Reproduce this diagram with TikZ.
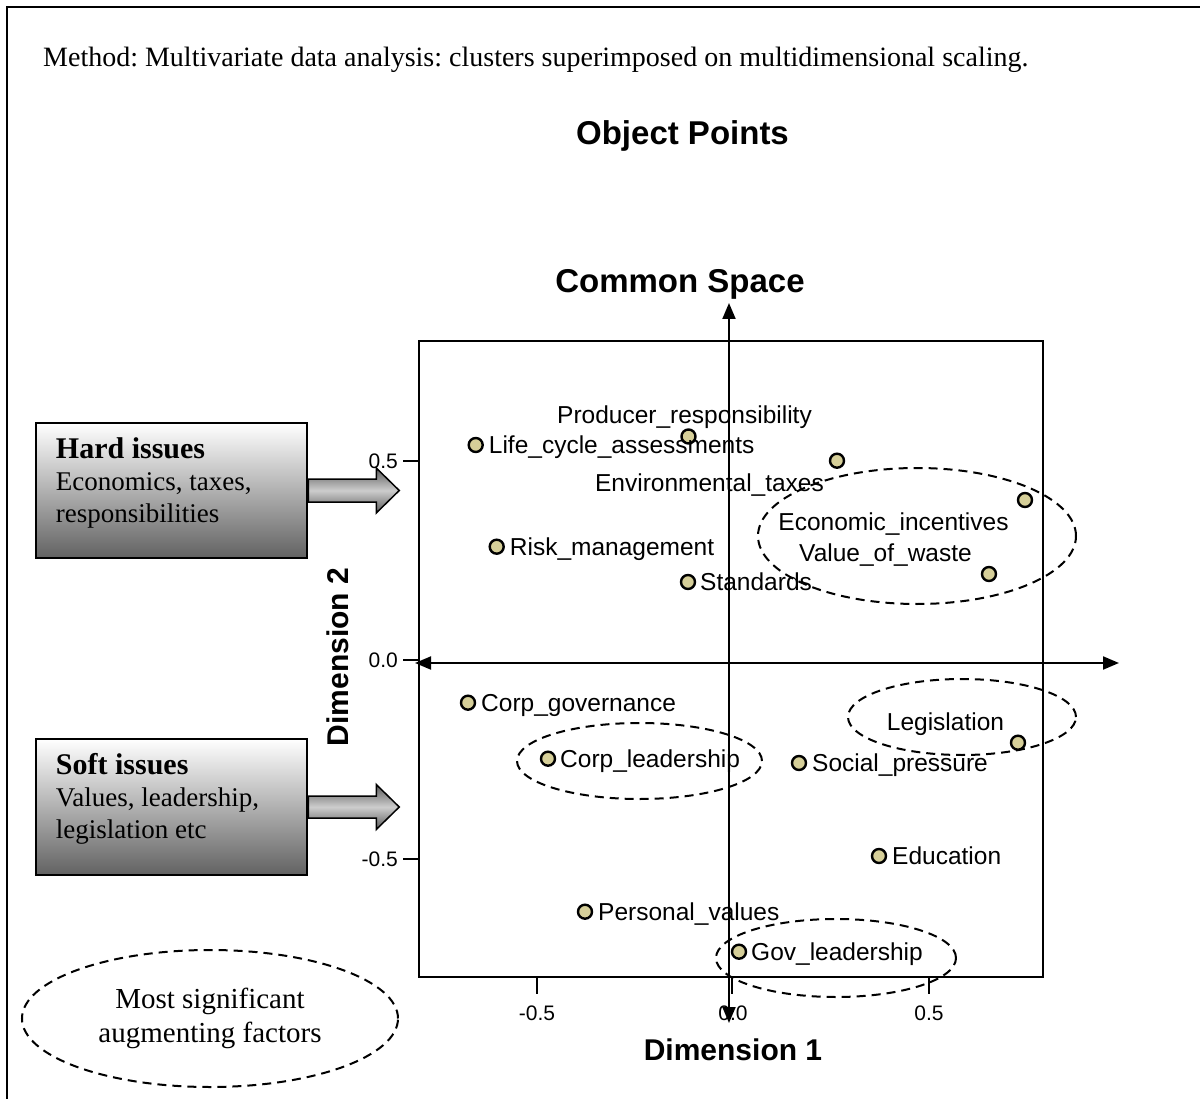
\documentclass[tikz,border=0pt]{standalone}
\usepackage{fontspec}
\setmainfont{Liberation Serif}
\setsansfont{Liberation Sans}
\usetikzlibrary{shapes.geometric,arrows.meta,calc}
\definecolor{ptfill}{RGB}{214,207,153}
\definecolor{boxdark}{RGB}{98,98,98}
\definecolor{arrowdark}{RGB}{90,90,90}
\definecolor{arrowlight}{RGB}{205,205,205}
\frenchspacing
\begin{document}
\begin{tikzpicture}[x=1pt,y=-1pt,
  pt/.style={circle,draw=black,line width=2.4pt,fill=ptfill,minimum size=14pt,inner sep=0pt},
  lab/.style={font=\sffamily\fontsize{24.5}{28}\selectfont,inner sep=0pt,anchor=base west},
  labc/.style={lab,anchor=base},
  ticklab/.style={font=\sffamily\fontsize{21}{24}\selectfont,inner sep=0pt},
  cluster/.style={ellipse,draw=black,line width=2pt,dash pattern=on 9pt off 6pt,inner sep=0pt},
  issuebox/.style={draw=black,line width=2.5pt,top color=white,bottom color=boxdark,minimum width=271pt,minimum height=135pt,inner sep=0pt},
  issuehead/.style={font=\fontsize{30}{32}\selectfont\bfseries,inner sep=0pt,anchor=base west},
  issuetext/.style={font=\fontsize{27}{32}\selectfont,inner sep=0pt,anchor=base west},
  fat/.style={draw=black,line width=1.5pt,top color=arrowdark,bottom color=arrowdark,middle color=arrowlight},
  axisline/.style={line width=2pt,{Triangle[length=16pt,width=13pt]}-{Triangle[length=16pt,width=13pt]}},
  heading/.style={font=\sffamily\bfseries\fontsize{33}{38}\selectfont,inner sep=0pt,anchor=base},
  axislab/.style={font=\sffamily\bfseries\fontsize{30}{34}\selectfont,inner sep=0pt,anchor=base},
]
\useasboundingbox (0,0) rectangle (1200,1099);

% outer frame (open towards right and bottom)
\draw[line width=2.4pt] (7,1099) -- (7,7) -- (1200,7);

% headings
\node[font=\fontsize{28}{32}\selectfont,inner sep=0pt,anchor=base west] (method) at (43,67)
  {Method: Multivariate data analysis: clusters superimposed on multidimensional scaling.};
\node[heading] (objpts) at (682.5,145) {Object Points};
\node[heading] (common) at (680,293) {Common Space};

% plot frame and ticks
\draw[line width=2.8pt] (419,341) rectangle (1043,977);
\foreach \yy in {461,660,859} \draw[line width=2.8pt] (403,\yy) -- (419,\yy);
\foreach \xx in {537,732,929} \draw[line width=2.8pt] (\xx,977) -- (\xx,994);
\node[ticklab,anchor=east] (y1) at (398,461.5) {0.5};
\node[ticklab,anchor=east] (y0) at (398,660) {0.0};
\node[ticklab,anchor=east] (ym) at (398,859.5) {-0.5};
\node[ticklab] (xm) at (537,1013) {-0.5};
\node[ticklab] (x0) at (733,1013) {0.0};
\node[ticklab] (x1) at (929,1013) {0.5};
\node[axislab] (dim1) at (733,1060) {Dimension 1};
\node[axislab,rotate=90] (dim2) at (348,657) {Dimension 2};

% superimposed axes
\coordinate (ytop) at (729,303);
\coordinate (ybot) at (729,1023);
\coordinate (xleft) at (415,663);
\coordinate (xright) at (1119,663);
\draw[axisline] (ybot) -- (ytop);
\draw[axisline] (xleft) -- (xright);

% clusters
\node[cluster,minimum width=318pt,minimum height=136pt] (cEcon) at (917,536) {};
\node[cluster,minimum width=228pt,minimum height=76pt] (cLeg) at (962,717) {};
\node[cluster,minimum width=245pt,minimum height=76pt] (cCorp) at (639.5,761) {};
\node[cluster,minimum width=240pt,minimum height=78pt] (cGov) at (836,958) {};

% object points
\node[pt] (pPR) at (688.5,436.5) {};
\node[pt] (pLCA) at (475.7,445) {};
\node[pt] (pET) at (837,460.7) {};
\node[pt] (pEI) at (1025,500) {};
\node[pt] (pVW) at (989,574) {};
\node[pt] (pRM) at (496.7,546.7) {};
\node[pt] (pST) at (688,582) {};
\node[pt] (pCG) at (468,702.7) {};
\node[pt] (pCL) at (548,758.7) {};
\node[pt] (pSP) at (799,763) {};
\node[pt] (pLG) at (1018,742.7) {};
\node[pt] (pED) at (879,856) {};
\node[pt] (pPV) at (585,911.7) {};
\node[pt] (pGL) at (739,951.7) {};

% point labels
\node[labc] (lPR) at (684.5,424) {Producer\_responsibility};
\node[lab] (lLCA) at ($(pLCA)+(13,8.5)$) {Life\_cycle\_assessments};
\node[labc] (lET) at (709.5,491.7) {Environmental\_taxes};
\node[labc] (lEI) at (893.5,530) {Economic\_incentives};
\node[labc] (lVW) at (885.5,561.7) {Value\_of\_waste};
\node[lab] (lRM) at ($(pRM)+(13,8.5)$) {Risk\_management};
\node[lab] (lST) at ($(pST)+(12,8.5)$) {Standards};
\node[lab] (lCG) at ($(pCG)+(13,8.5)$) {Corp\_governance};
\node[lab] (lCL) at ($(pCL)+(12,8.5)$) {Corp\_leadership};
\node[lab] (lSP) at ($(pSP)+(13,8.5)$) {Social\_pressure};
\node[labc] (lLG) at (945.5,730.7) {Legislation};
\node[lab] (lED) at ($(pED)+(13,8.5)$) {Education};
\node[lab] (lPV) at ($(pPV)+(13,8.5)$) {Personal\_values};
\node[lab] (lGL) at ($(pGL)+(12,8.5)$) {Gov\_leadership};

% issue boxes with their arrows
\node[issuebox] (hard) at (171.5,490.5) {};
\node[issuehead] (hardT) at ($(hard.north west)+(21,37)$) {Hard issues};
\node[issuetext] (hard1) at ($(hardT.base west)+(0,32)$) {Economics, taxes,};
\node[issuetext] (hard2) at ($(hard1.base west)+(0,32)$) {responsibilities};
\shadedraw[fat] ($(hard.east)+(0,-11.5)$) -- ++(68,0) -- ++(0,-11) -- ++(23,22.5)
  -- ++(-23,22.5) -- ++(0,-11) -- ++(-68,0) -- cycle;

\node[issuebox,minimum height=136pt] (soft) at (171.5,807) {};
\node[issuehead] (softT) at ($(soft.north west)+(21,37)$) {Soft issues};
\node[issuetext] (soft1) at ($(softT.base west)+(0,32)$) {Values, leadership,};
\node[issuetext] (soft2) at ($(soft1.base west)+(0,32)$) {legislation etc};
\shadedraw[fat] ($(soft.east)+(0,-11)$) -- ++(68,0) -- ++(0,-11.5) -- ++(23,22.5)
  -- ++(-23,22.5) -- ++(0,-11.5) -- ++(-68,0) -- cycle;

% legend
\node[cluster,minimum width=376pt,minimum height=137pt,align=center,
  font=\fontsize{29}{34}\selectfont] (legend) at (210,1018.5)
  {Most significant\\augmenting factors};
\end{tikzpicture}
\end{document}
